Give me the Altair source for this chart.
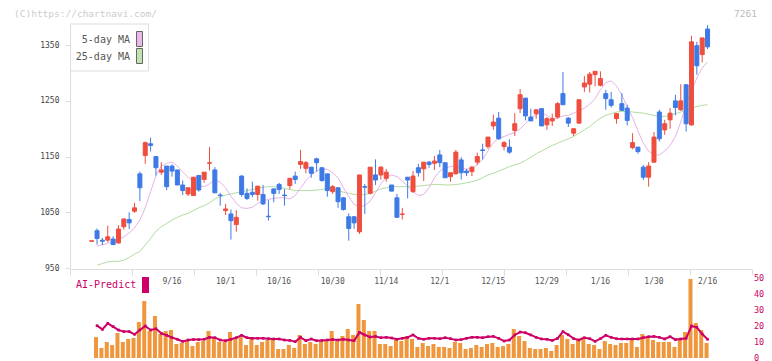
import altair as alt
import numpy as np
import pandas as pd

# ---------------- data ----------------
opens = [998, 1017, 1000, 1000, 1002, 995, 1024, 1037, 1052, 1119,
         1152, 1173, 1150, 1122, 1133, 1133, 1126, 1099, 1083, 1080,
         1116, 1109, 1138, 1126, 1081, 1053, 1047, 1028, 1115, 1084,
         1086, 1082, 1082, 1043, 1092, 1100, 1081, 1098, 1115, 1136,
         1129, 1131, 1146, 1130, 1119, 1087, 1094, 1076, 1042, 1042,
         1015, 1096, 1084, 1117, 1117, 1111, 1099, 1076, 1046, 1113,
         1087, 1130, 1128, 1140, 1138, 1153, 1139, 1114, 1119, 1144,
         1124, 1123, 1140, 1162, 1168, 1205, 1219, 1168, 1167, 1197,
         1236, 1255, 1221, 1227, 1236, 1207, 1214, 1221, 1263, 1219,
         1192, 1210, 1275, 1280, 1297, 1278, 1263, 1252, 1218, 1245,
         1237, 1166, 1167, 1131, 1113, 1140, 1230, 1198, 1216, 1250,
         1234, 1279, 1207, 1349, 1333, 1379]
highs = [999, 1021, 1004, 1026, 1007, 1027, 1039, 1050, 1067, 1123,
         1177, 1184, 1150, 1140, 1133, 1136, 1126, 1107, 1094, 1113,
         1116, 1122, 1167, 1131, 1085, 1065, 1055, 1054, 1117, 1093,
         1105, 1097, 1099, 1072, 1092, 1103, 1092, 1111, 1123, 1162,
         1142, 1131, 1148, 1130, 1119, 1099, 1094, 1077, 1048, 1042,
         1117, 1101, 1131, 1145, 1133, 1128, 1099, 1083, 1058, 1113,
         1124, 1137, 1140, 1142, 1151, 1162, 1139, 1121, 1162, 1149,
         1128, 1133, 1157, 1173, 1185, 1225, 1230, 1178, 1181, 1228,
         1271, 1255, 1236, 1234, 1236, 1221, 1227, 1248, 1302, 1221,
         1200, 1252, 1295, 1302, 1304, 1303, 1270, 1266, 1228, 1264,
         1243, 1192, 1167, 1135, 1140, 1194, 1234, 1216, 1237, 1261,
         1280, 1279, 1367, 1356, 1363, 1386]
lows = [998, 992, 991, 996, 992, 994, 1019, 1020, 1049, 1070,
        1137, 1159, 1116, 1117, 1090, 1114, 1099, 1081, 1079, 1080,
        1087, 1103, 1125, 1085, 1062, 1045, 1001, 1015, 1078, 1072,
        1077, 1071, 1063, 1035, 1068, 1083, 1062, 1091, 1101, 1128,
        1120, 1112, 1123, 1105, 1078, 1083, 1058, 1053, 999, 1020,
        1011, 1047, 1082, 1099, 1109, 1105, 1088, 1041, 1037, 1075,
        1085, 1114, 1106, 1130, 1126, 1131, 1112, 1105, 1118, 1109,
        1115, 1115, 1135, 1145, 1164, 1198, 1180, 1161, 1155, 1187,
        1228, 1215, 1214, 1218, 1205, 1198, 1205, 1218, 1243, 1203,
        1187, 1209, 1266, 1265, 1276, 1276, 1234, 1238, 1209, 1232,
        1206, 1163, 1155, 1108, 1096, 1139, 1177, 1189, 1200, 1224,
        1232, 1195, 1205, 1297, 1319, 1343]
closes = [999, 1003, 998, 1006, 992, 1020, 1038, 1031, 1058, 1094,
          1175, 1170, 1130, 1126, 1096, 1124, 1099, 1089, 1094, 1113,
          1090, 1122, 1139, 1085, 1080, 1056, 1035, 1041, 1082, 1075,
          1082, 1097, 1065, 1042, 1084, 1091, 1080, 1111, 1109, 1141,
          1139, 1120, 1139, 1107, 1089, 1096, 1069, 1055, 1021, 1031,
          1117, 1095, 1131, 1108, 1131, 1122, 1088, 1041, 1047, 1108,
          1115, 1121, 1140, 1136, 1142, 1139, 1112, 1121, 1158, 1121,
          1121, 1131, 1150, 1161, 1185, 1212, 1182, 1175, 1158, 1209,
          1261, 1223, 1214, 1234, 1205, 1218, 1218, 1245, 1243, 1210,
          1200, 1252, 1282, 1298, 1303, 1290, 1254, 1242, 1227, 1233,
          1215, 1175, 1159, 1113, 1133, 1185, 1182, 1209, 1228, 1238,
          1250, 1209, 1356, 1313, 1363, 1347]
ma5 = [None,
       989, 992, 994, 998, 1002, 1006, 1013, 1022, 1036, 1058,
       1087, 1116, 1133, 1138, 1140, 1133, 1122, 1113, 1105, 1098,
       1096, 1101, 1108, 1104, 1094, 1079, 1066, 1058, 1057, 1059,
       1066, 1071, 1073, 1075, 1076, 1076, 1074, 1080, 1093, 1107,
       1117, 1124, 1128, 1127, 1121, 1112, 1094, 1078, 1064, 1060,
       1062, 1070, 1085, 1101, 1113, 1117, 1114, 1106, 1097, 1087,
       1080, 1082, 1094, 1112, 1124, 1130, 1132, 1132, 1130, 1127,
       1129, 1135, 1145, 1160, 1175, 1183, 1186, 1190, 1193, 1200,
       1209, 1220, 1225, 1228, 1224, 1218, 1219, 1223, 1224, 1228,
       1232, 1237, 1244, 1254, 1270, 1283, 1286, 1277, 1261, 1239,
       1220, 1196, 1174, 1160, 1153, 1153, 1160, 1170, 1186, 1212,
       1243, 1268, 1291, 1309, 1320]
ma25 = [None,
        955, 958, 961, 962, 962, 964, 969, 975, 980, 991,
        1003, 1016, 1024, 1030, 1036, 1041, 1045, 1048, 1053, 1058,
        1062, 1067, 1074, 1078, 1081, 1083, 1085, 1087, 1089, 1091,
        1093, 1095, 1096, 1096, 1095, 1093, 1091, 1089, 1089, 1089,
        1089, 1090, 1091, 1093, 1092, 1090, 1086, 1084, 1082, 1081,
        1082, 1084, 1088, 1092, 1094, 1096, 1096, 1096, 1096, 1097,
        1097, 1098, 1099, 1100, 1100, 1099, 1099, 1100, 1101, 1103,
        1105, 1108, 1112, 1117, 1120, 1124, 1128, 1132, 1135, 1138,
        1143, 1149, 1155, 1160, 1165, 1170, 1174, 1178, 1182, 1186,
        1192, 1198, 1204, 1212, 1219, 1224, 1227, 1230, 1231, 1231,
        1230, 1229, 1228, 1226, 1224, 1222, 1222, 1224, 1227, 1230,
        1233, 1237, 1240, 1242, 1243]
volume = [None,
          13.1, 6.25, 10.0, 8.1, 15.6, 10.0, 11.9, 12.5, 22.5, 35.6,
          16.9, 26.25, 15.0, 16.9, 17.5, 8.75, 9.4, 10.6, 7.5, 10.0,
          10.6, 16.9, 12.5, 10.0, 10.0, 16.25, 11.9, 13.1, 8.1, 12.5,
          8.1, 10.0, 11.25, 11.9, 5.6, 5.6, 8.1, 6.25, 14.4, 8.75,
          10.0, 8.75, 11.25, 11.25, 16.9, 10.6, 13.75, 18.1, 14.4, 33.75,
          23.75, 16.9, 16.9, 8.75, 8.75, 7.5, 11.25, 10.6, 13.75, 11.9,
          6.9, 9.4, 7.5, 8.75, 6.9, 6.9, 6.25, 10.0, 9.4, 5.6,
          6.25, 8.1, 6.9, 8.75, 9.4, 6.9, 7.5, 8.75, 18.1, 13.75,
          10.6, 6.25, 5.6, 5.6, 6.25, 4.4, 8.1, 14.4, 11.9, 8.75,
          11.9, 13.1, 8.75, 8.1, 5.6, 10.6, 8.75, 8.1, 9.4, 9.4,
          11.25, 6.9, 15.0, 12.5, 11.25, 10.0, 10.0, 10.0, 6.9, 11.25,
          16.25, 49.4, 21.9, 17.5, 9.4]
ai_predict = [None,
              20.2, 17.9, 21.7, 19.6, 17.5, 16.5, 16.5, 14.8, 17.5, 20.0,
              17.5, 18.3, 15.4, 14.2, 12.7, 11.7, 10.4, 11.25, 11.5, 11.5,
              11.7, 12.9, 12.7, 11.25, 10.8, 11.7, 12.7, 14.2, 12.7, 12.3,
              12.3, 12.3, 12.1, 11.9, 11.9, 11.25, 11.0, 10.2, 12.9, 10.8,
              11.9, 10.8, 11.0, 11.25, 11.5, 11.25, 11.7, 11.25, 10.8, 16.0,
              14.4, 13.1, 13.5, 12.7, 12.9, 12.5, 11.7, 12.3, 12.9, 14.4,
              12.3, 11.7, 12.3, 12.3, 12.1, 12.7, 12.1, 11.25, 11.5, 12.3,
              12.9, 12.9, 12.7, 13.3, 13.5, 12.3, 10.6, 11.25, 14.4, 16.25,
              15.8, 14.4, 12.9, 11.9, 11.7, 11.0, 12.3, 16.5, 14.5, 12.1,
              11.25, 12.7, 12.1, 10.4, 12.1, 14.2, 12.9, 12.1, 11.9, 11.9,
              11.9, 11.9, 12.7, 13.3, 13.5, 12.9, 11.9, 13.3, 11.5, 11.9,
              12.3, 20.0, 19.2, 15.0, 11.7]
date_labels = ["9/16", "10/1", "10/16", "10/30", "11/14", "12/1",
               "12/15", "12/29", "1/16", "1/30", "2/16"]
date_index = [15, 25, 35, 45, 55, 65, 75, 85, 95, 105, 115]
price_ticks = [950, 1050, 1150, 1250, 1350]
volume_ticks = [0, 10, 20, 30, 40, 50]

# ---------------- tables ----------------
df = pd.DataFrame({
    "i": list(range(len(opens))),
    "open": opens, "high": highs, "low": lows, "close": closes,
    "ma5": ma5, "ma25": ma25, "volume": volume, "ai": ai_predict,
})
df["dir"] = np.where(df["close"] >= df["open"], "up", "down")
labels_df = pd.DataFrame({"i": date_index, "label": date_labels})
one = pd.DataFrame({"a": [0]})

# ---------------- styling ----------------
MONO = "DejaVu Sans Mono"
UP, DOWN = "#ef4e3e", "#3e7ae6"
MAGENTA = "#cc0066"
AXIS_GRAY = "#dddddd"

X_DOMAIN = [-4.05, 123.3]
x_ticks = [float(v) for v in np.linspace(X_DOMAIN[0], X_DOMAIN[1], 12)]
x_axis = alt.Axis(values=x_ticks, labels=False, tickSize=6, tickColor=AXIS_GRAY,
                  domainColor=AXIS_GRAY, grid=False, title=None, offset=-92)


def X():
    return alt.X("i:Q", scale=alt.Scale(domain=X_DOMAIN, nice=False, zero=False, padding=0),
                 axis=x_axis)


price_scale = alt.Scale(domain=[950, 1388], range=[260, 16], nice=False, zero=False, padding=0)
vol_scale = alt.Scale(domain=[0, 50], range=[350, 270], nice=False, padding=0)
dir_scale = alt.Scale(domain=["up", "down"], range=[UP, DOWN])

price_axis = alt.Axis(values=price_ticks, format="d", title=None, grid=False,
                      tickSize=5, tickColor=AXIS_GRAY, domainColor=AXIS_GRAY,
                      labelFont=MONO, labelFontSize=8, labelColor="#444444",
                      labelPadding=6, labelFlush=False)
vol_axis = alt.Axis(values=volume_ticks, orient="right", title=None, grid=False,
                    domain=False, ticks=False, labelFont=MONO, labelFontSize=8.5,
                    labelColor=MAGENTA, labelPadding=1.5, labelFlush=False,
                    labelOverlap=False, labelOffset=-1)

base = alt.Chart(df)

wicks = base.mark_rule(strokeWidth=1).encode(
    x=X(), y=alt.Y("low:Q", scale=price_scale, axis=price_axis), y2="high:Q",
    color=alt.Color("dir:N", scale=dir_scale, legend=None))
bodies = base.mark_bar(width=4, strokeWidth=1).encode(
    x=X(), y=alt.Y("open:Q", scale=price_scale, axis=None), y2="close:Q",
    color=alt.Color("dir:N", scale=dir_scale, legend=None),
    stroke=alt.Stroke("dir:N", scale=dir_scale, legend=None))
ma5_line = base.mark_line(color="#e6b2e6", strokeWidth=1).encode(
    x=X(), y=alt.Y("ma5:Q", scale=price_scale, axis=None))
ma25_line = base.mark_line(color="#b3dca3", strokeWidth=1).encode(
    x=X(), y=alt.Y("ma25:Q", scale=price_scale, axis=None))

vol_bars = base.mark_bar(width=4, color="#f0963c", xOffset=-1).encode(
    x=X(), y=alt.Y("volume:Q", scale=vol_scale, axis=vol_axis))
ai_line = base.mark_line(color=MAGENTA, strokeWidth=2).encode(
    x=X(), y=alt.Y("ai:Q", scale=vol_scale, axis=None))
ai_pts = base.mark_square(color=MAGENTA, size=7, opacity=1).encode(
    x=X(), y=alt.Y("ai:Q", scale=vol_scale, axis=None))

date_text = alt.Chart(labels_df).mark_text(
    font=MONO, fontSize=8, color="#555555", align="center", baseline="middle"
).encode(x=X(), y=alt.value(274), text="label:N")

legend_box = alt.Chart(one).mark_rect(fill="white", stroke=AXIS_GRAY, strokeWidth=1).encode(
    x=alt.value(0.5), x2=alt.value(78.5), y=alt.value(16), y2=alt.value(63))
sw5 = alt.Chart(one).mark_rect(fill="#ebb8eb", stroke="#666666", strokeWidth=1).encode(
    x=alt.value(66.5), x2=alt.value(72.5), y=alt.value(23.5), y2=alt.value(38.5))
sw25 = alt.Chart(one).mark_rect(fill="#c0e2b0", stroke="#666666", strokeWidth=1).encode(
    x=alt.value(66.5), x2=alt.value(72.5), y=alt.value(40.5), y2=alt.value(55.5))
t5 = alt.Chart(one).mark_text(text="5-day MA", font=MONO, fontSize=10, color="#555555",
                              align="right", baseline="middle").encode(
    x=alt.value(60), y=alt.value(32))
t25 = alt.Chart(one).mark_text(text="25-day MA", font=MONO, fontSize=10, color="#555555",
                               align="right", baseline="middle").encode(
    x=alt.value(60), y=alt.value(49))
ai_label = alt.Chart(one).mark_text(text="AI-Predict", font=MONO, fontSize=10, color=MAGENTA,
                                    align="left", baseline="middle").encode(
    x=alt.value(6), y=alt.value(277))
ai_square = alt.Chart(one).mark_rect(fill=MAGENTA).encode(
    x=alt.value(72), x2=alt.value(79), y=alt.value(269), y2=alt.value(285))
watermark = alt.Chart(one).mark_text(text="(C)https://chartnavi.com/", font=MONO, fontSize=9.5,
                                     color="#cccccc", align="left", baseline="top").encode(
    x=alt.value(-56), y=alt.value(0.5))
code = alt.Chart(one).mark_text(text="7261", font=MONO, fontSize=9.5, color="#bbbbbb",
                                align="right", baseline="top").encode(
    x=alt.value(687), y=alt.value(0.5))

chart = alt.layer(
    vol_bars, ai_line, ai_pts, ma25_line, ma5_line, wicks, bodies, date_text,
    legend_box, sw5, sw25, t5, t25, ai_label, ai_square, watermark, code
).resolve_scale(y="independent").properties(
    width=682, height=353,
    autosize=alt.AutoSizeParams(type="none"),
    padding={"left": 62, "top": 0, "right": 12, "bottom": 0},
    background="white",
).configure_view(strokeWidth=0)

chart.save("out.html", embed_options={"renderer": "svg", "actions": False})
